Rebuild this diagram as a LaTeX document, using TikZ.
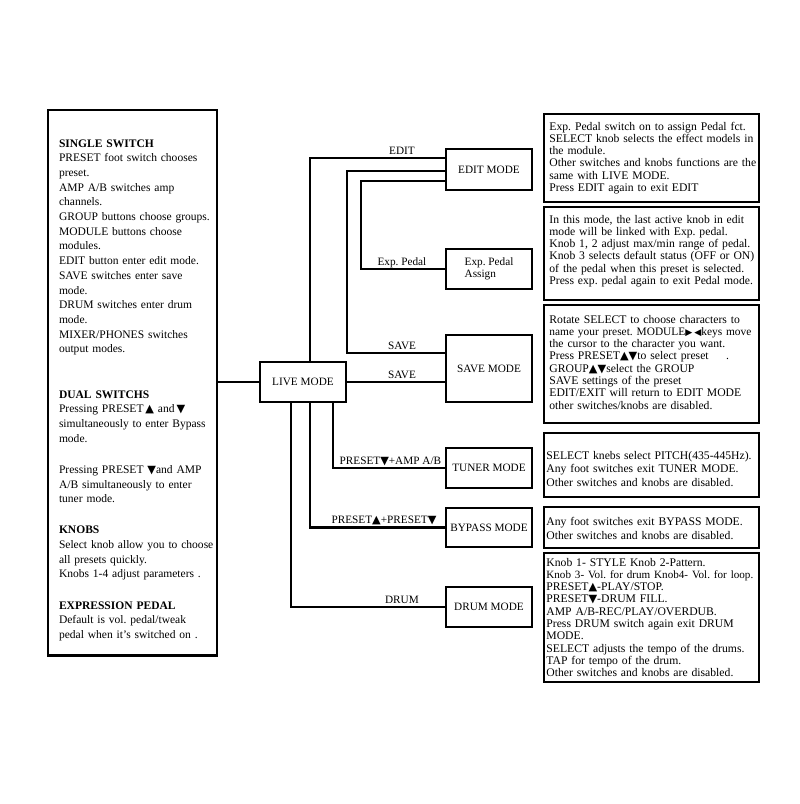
\documentclass[tikz,border=0pt]{standalone}
\usepackage{fontspec}
\setmainfont{Liberation Serif}
\newfontfamily\symfont{DejaVu Sans}
\usetikzlibrary{calc}
\frenchspacing
\newcommand\triup{{\symfont\fontsize{8}{8}\selectfont ▲}}
\newcommand\tridown{{\symfont\fontsize{8}{8}\selectfont ▼}}
\newcommand\triright{{\symfont\fontsize{6.5}{8}\selectfont ▶}}
\newcommand\trileft{{\symfont\fontsize{6.5}{8}\selectfont ◀}}

\begin{document}
\begin{tikzpicture}[x=0.025cm, y=-0.025cm]
\tikzstyle{modebox} = [rectangle, draw, line width=2pt, outer sep=0pt, anchor=north west, minimum width=2.15cm, inner sep=2pt, font=\fontsize{8}{8.6}\selectfont]
\tikzstyle{infobox} = [rectangle, draw, line width=2pt, outer sep=0pt, anchor=north west, text width=5.255cm, inner xsep=0.06cm, inner ysep=0pt, align=left, font=\fontsize{8.3}{8.75}\selectfont]
\tikzstyle{line} = [draw, line width=2pt]
\tikzstyle{lbl} = [anchor=base, yshift=2.6pt, inner sep=0pt, font=\fontsize{8}{9}\selectfont]

\fill[white] (0,0) rectangle (800,804);
\useasboundingbox (0,0) rectangle (800,804);

% controls overview
\node [infobox, text width=3.95cm, inner xsep=0.1375cm, text height=0.925cm, text depth=12.7cm, font=\fontsize{8.2}{10.46}\selectfont] (panel) at (48,110) {\leftskip=0.1375cm\relax
\textbf{SINGLE SWITCH}\\
PRESET foot switch chooses\\
preset.\\
AMP A/B switches amp\\
channels.\\
\mbox{GROUP buttons choose groups.}\\
MODULE buttons choose\\
modules.\\
\mbox{EDIT button enter edit mode.}\\
SAVE switches enter save\\
mode.\\
DRUM switches enter drum\\
mode.\\
MIXER/PHONES switches\\
output modes.\\[0.76cm]
\textbf{DUAL SWITCHS}\\
Pressing PRESET\,\triup{} and\,\tridown\\
\mbox{simultaneously to enter Bypass}\\
mode.\\[0.41cm]
\mbox{Pressing PRESET \tridown{}and AMP}\\
A/B simultaneously to enter\\
tuner mode.\\[0.41cm]
\textbf{KNOBS}\\
\mbox{Select knob allow you to choose}\\
all presets quickly.\\
\mbox{Knobs 1-4 adjust parameters .}\\[0.41cm]
\textbf{EXPRESSION PEDAL}\\
Default is vol. pedal/tweak\\
pedal when it's switched on .\par};

% modes
\node [modebox, minimum height=1.0cm] (live) at (260,362) {LIVE MODE};
\node [modebox, minimum height=1.025cm] (editmode) at (446,149) {EDIT MODE};
\node [modebox, minimum height=1.0cm, align=left] (padassign) at (446,249) {Exp. Pedal\\Assign};
\node [modebox, minimum height=1.675cm] (savemode) at (446,335) {SAVE MODE};
\node [modebox, minimum height=1.0cm] (tunermode) at (446,448) {TUNER MODE};
\node [modebox, minimum height=0.975cm] (bypassmode) at (446,508) {BYPASS MODE};
\node [modebox, minimum height=1.0cm] (drummode) at (446,587) {DRUM MODE};

% descriptions
\node [infobox, text height=0.4cm, text depth=1.8cm] (editinfo) at (544,114) {\leftskip=0.075cm\relax
\mbox{Exp. Pedal switch on to assign Pedal fct.}\\
\mbox{SELECT knob selects the effect models in}\\
the module.\\
\mbox{Other switches and knobs functions are the}\\
same with LIVE MODE.\\
Press EDIT again to exit EDIT\par};
\node [infobox, text height=0.4cm, text depth=1.925cm] (padinfo) at (544,207) {\leftskip=0.075cm\relax
\mbox{In this mode, the last active knob in edit}\\
mode will be linked with Exp. pedal.\\
\mbox{Knob 1, 2 adjust max/min range of pedal.}\\
\mbox{Knob 3 selects default status (OFF or ON)}\\
\mbox{of the pedal when this preset is selected.}\\
\mbox{Press exp. pedal again to exit Pedal mode.}\par};
\node [infobox, text height=0.45cm, text depth=2.5cm] (saveinfo) at (544,305) {\leftskip=0.075cm\relax
Rotate SELECT to choose characters to\\
\mbox{\fontsize{8.1}{8.75}\selectfont name your preset. MODULE\triright\,\trileft{}keys move}\\
the cursor to the character you want.\\
Press PRESET\triup\tridown{}to select preset\hspace{1.5em}.\\
GROUP\triup\tridown{}select the GROUP\\
SAVE settings of the preset\\
EDIT/EXIT will return to EDIT MODE\\
other switches/knobs are disabled.\par};
\node [infobox, text height=0.65cm, text depth=0.95cm, font=\fontsize{8.3}{9.6}\selectfont] (tunerinfo) at (544,433) {\mbox{SELECT knebs select PITCH(435-445Hz).}\\
Any foot switches exit TUNER MODE.\\
Other switches and knobs are disabled.};
\node [infobox, text height=0.45cm, text depth=0.575cm, font=\fontsize{8.3}{9.96}\selectfont] (bypassinfo) at (544,507) {Any foot switches exit BYPASS MODE.\\
Other switches and knobs are disabled.};
\node [infobox, text height=0.325cm, text depth=2.9cm] (druminfo) at (544,553) {Knob 1- STYLE Knob 2-Pattern.\\
\mbox{\fontsize{7.9}{8.75}\selectfont Knob 3- Vol. for drum Knob4- Vol. for loop.}\\
PRESET\triup-PLAY/STOP.\\
PRESET\tridown-DRUM FILL.\\
AMP A/B-REC/PLAY/OVERDUB.\\
Press DRUM switch again exit DRUM\\
MODE.\\
\mbox{SELECT adjusts the tempo of the drums.}\\
TAP for tempo of the drum.\\
Other switches and knobs are disabled.};

% connections
\path [line] (panel.east |- live.west) -- (live.west);
\path [line] ($(live.north west)+(50,0)$) |- ($(editmode.west)+(0,-11.5)$) node[lbl, pos=0.838] {EDIT};
\path [line] ($(editmode.west)+(0,1.5)$) -- ++(-99,0) |- ($(savemode.west)+(0,-15.5)$) node[lbl, pos=0.778] {SAVE};
\path [line] ($(editmode.west)+(0,11.5)$) -- ++(-85,0) |- (padassign.west) node[lbl, pos=0.741] {Exp. Pedal};
\path [line] (live.east) -- (live.east -| savemode.west) node[lbl, pos=0.56] {SAVE};
\path [line] ($(live.south west)+(73,0)$) |- (tunermode.west) node[lbl, pos=0.754] {PRESET\tridown+AMP A/B};
\path [line] ($(live.south west)+(50,0)$) |- (bypassmode.west) node[lbl, pos=0.772] {PRESET\triup+PRESET\tridown};
\path [line] ($(live.south west)+(31,0)$) |- (drummode.west) node[lbl, pos=0.858] {DRUM};
\end{tikzpicture}
\end{document}
